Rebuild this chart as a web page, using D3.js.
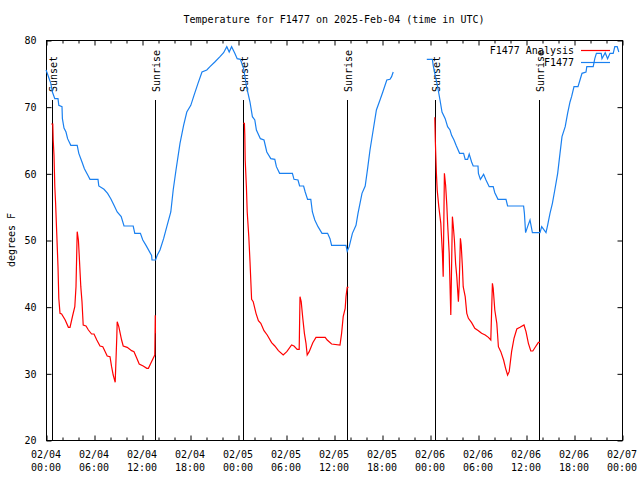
<!DOCTYPE html>
<html>
<head>
<meta charset="utf-8">
<script src="https://cdn.jsdelivr.net/npm/d3@7"></script>
<style>
  html, body { margin: 0; padding: 0; background: #fff; }
  svg { display: block; }
  text { font-family: "DejaVu Sans Mono", "Liberation Mono", monospace; font-size: 10px; fill: #000; }
</style>
</head>
<body>
<svg id="chart" width="640" height="480"></svg>
<script>
// ---- Data (hours since 2025-02-04 00:00 UTC, degrees F) ----
const titleText = "Temperature for F1477 on 2025-Feb-04 (time in UTC)";
const yLabel = "degrees F";
const seriesNames = ["F1477 Analysis", "F1477"];
const yTicks = [20, 30, 40, 50, 60, 70, 80];
const xMajorHours = [0, 6, 12, 18, 24, 30, 36, 42, 48, 54, 60, 66, 72];
const sunsetHours = [0.78, 24.66, 48.66];
const sunriseHours = [13.66, 37.66, 61.66];

// observed F1477 (blue), two segments
const obsSeg1 = [[0,75.5],[0.1,75.2],[0.6,73.5],[0.8,72.2],[1.1,71.2],[1.5,71.2],[1.6,70.2],[2.0,70],[2.05,68.2],[2.25,66.8],[2.5,66.2],[2.7,65.2],[3.1,64.2],[3.9,64.2],[4.1,63],[4.5,61.7],[4.8,60.7],[5.2,59.8],[5.5,59.1],[6.5,59.1],[6.6,58.1],[7.25,57.6],[7.7,57],[8.1,56.2],[8.5,55.2],[8.9,54.2],[9.4,53.5],[9.75,52.1],[10.9,52.1],[11.1,51],[11.8,51],[12.1,50],[12.5,49.2],[13.2,47.7],[13.25,47],[13.7,47],[13.9,47.7],[14.25,48.5],[14.7,50.2],[15.1,52],[15.6,54.2],[15.9,57.5],[16.25,60.5],[16.75,64.5],[17.2,67.2],[17.6,69.2],[18.1,70.2],[18.5,71.7],[19.0,73.5],[19.5,75.2],[20.1,75.5],[20.5,76],[21.1,76.7],[21.75,77.5],[22.2,78.1],[22.6,79],[22.9,78.2],[23.2,79],[23.6,78],[23.9,77.2],[24.3,77.1],[24.7,75.7],[25.1,72.8],[25.5,70.7],[25.8,68.5],[26.1,68],[26.3,66.5],[26.8,65.2],[27.25,65],[27.6,63.2],[28.1,62.2],[28.6,62.1],[28.8,61],[29.2,60],[30.8,60],[31.0,59.1],[31.5,59],[31.7,58.1],[32.2,58.1],[32.4,57.2],[32.7,56.1],[33.1,56.1],[33.3,54.2],[33.6,53],[34.0,52],[34.5,51],[35.2,51],[35.5,50.2],[35.7,49.2],[37.5,49.2],[37.65,48.3],[37.9,49],[38.3,51],[38.75,52.2],[39.0,54],[39.5,57],[39.9,58.1],[40.2,60.7],[40.5,63.5],[40.9,66.5],[41.3,69.5],[41.75,71],[42.1,72.2],[42.6,74],[43.0,74.1],[43.2,74.5],[43.4,75.2]];
const obsSeg2 = [[47.6,77.1],[48.3,77.1],[48.4,76.2],[48.6,75],[48.95,73],[49.25,71],[49.5,69.2],[49.9,68.2],[50.2,67],[50.5,66.5],[50.7,65.7],[51.0,65],[51.3,64.1],[51.7,63],[52.2,63],[52.4,62.1],[52.7,62.1],[52.9,62.9],[53.2,61.7],[53.4,61.1],[54.0,61.1],[54.05,60],[54.3,59.1],[54.7,59.85],[55.0,59],[55.4,58],[55.9,58],[56.1,57.1],[56.5,56.1],[57.5,56.1],[57.7,55.1],[59.7,55.1],[59.8,54],[59.95,51.1],[60.2,52],[60.5,53],[60.8,51.1],[61.75,51.1],[61.96,52],[62.5,51.1],[62.7,52.2],[63.0,54],[63.3,55.5],[63.6,57.5],[63.96,60],[64.25,63],[64.5,65.5],[64.9,67],[65.2,69],[65.5,70.7],[65.7,71.5],[66.0,73],[66.5,73],[66.75,74],[67.0,75],[67.5,75.2],[67.6,76],[68.4,76],[68.6,77.2],[68.8,78],[69.4,78],[69.5,77.2],[69.9,78.1],[70.2,77.2],[70.5,78],[70.9,78],[71.1,79],[71.4,79],[71.6,78.2]];

// F1477 Analysis (red), one segment per night
const anaNight1 = [[0.66,67.4],[0.85,67.4],[0.9,65],[1.0,62.7],[1.1,58],[1.2,55.5],[1.35,50.75],[1.5,46],[1.6,41.25],[1.75,39],[1.95,38.9],[2.4,38],[2.8,36.9],[3.0,36.9],[3.35,38.75],[3.6,40],[3.75,43],[3.9,51.25],[4.05,50],[4.15,47.75],[4.35,43],[4.5,40.75],[4.65,37.25],[5.0,37.1],[5.3,36.5],[5.7,35.9],[6.0,35.9],[6.35,35],[6.75,34.1],[7.1,34],[7.4,33.25],[7.65,32.6],[8.0,32.5],[8.2,31],[8.4,29.75],[8.65,28.65],[8.85,35.5],[8.9,37.75],[9.1,37],[9.45,35],[9.65,34.1],[10.15,33.9],[10.7,33.4],[11.0,33.25],[11.35,32.25],[11.65,31.4],[12.15,31.1],[12.6,30.75],[12.8,30.75],[13.1,31.5],[13.4,32.25],[13.6,32.75],[13.66,38.7],[13.68,36]];
const anaNight2 = [[24.66,67.5],[24.8,67.5],[24.85,65.75],[24.9,62],[25.05,58],[25.15,54.25],[25.35,50.5],[25.5,46.75],[25.7,41.1],[25.9,40.75],[26.25,39],[26.55,37.9],[26.85,37.5],[27.25,36.4],[27.65,35.75],[28.2,34.6],[28.6,34.1],[29.05,33.4],[29.65,32.75],[30.1,33.25],[30.7,34.25],[31.0,34.1],[31.4,33.6],[31.65,33.6],[31.75,41.5],[31.9,40.75],[32.1,38.25],[32.3,36],[32.5,34.5],[32.65,32.75],[32.9,33.25],[33.35,34.6],[33.75,35.4],[34.9,35.4],[35.15,35],[35.7,34.4],[36.75,34.25],[36.95,36],[37.15,38.5],[37.4,39.75],[37.5,41.5],[37.65,42.9],[37.8,42.9]];
const anaNight3 = [[48.6,68.4],[48.67,64.75],[48.8,60],[48.9,57.5],[49.1,55],[49.35,52.5],[49.55,48],[49.65,44.5],[49.8,60],[49.95,58.25],[50.1,55.25],[50.2,52.5],[50.4,48],[50.5,43.25],[50.6,38.75],[50.8,53.5],[50.9,52.25],[51.05,50],[51.2,46.5],[51.35,44.5],[51.55,40.75],[51.65,43.25],[51.8,50.25],[51.9,49.25],[52.05,46],[52.15,43],[52.4,41.5],[52.6,39],[52.8,38.25],[53.2,37.6],[53.6,36.75],[54.05,36.4],[54.45,36],[54.9,35.75],[55.3,35.4],[55.6,35],[55.7,39.25],[55.8,43.5],[55.9,42.75],[56.1,39.5],[56.35,37.5],[56.55,34],[56.85,33.25],[57.2,32],[57.45,30.75],[57.7,29.75],[57.9,30.25],[58.2,33.25],[58.5,35.25],[58.85,36.65],[59.25,36.9],[59.75,37.25],[60.0,36.25],[60.3,34.5],[60.6,33.35],[60.85,33.35],[61.25,34.1],[61.55,34.65],[61.75,34.65]];

const obsColor = "#1a80f0";
const anaColor = "#ff0000";

// ---- Layout ----
const svg = d3.select("#chart");
const L = 46, R = 622, T = 40, B = 440;
const t0 = Date.UTC(2025, 1, 4);
const hr = h => new Date(t0 + h * 3600e3);

const x = d3.scaleUtc().domain([hr(0), hr(72)]).range([L, R]);
const y = d3.scaleLinear().domain([20, 80]).range([B, T]);

// frame
svg.append("rect").attr("x", L + 0.5).attr("y", T + 0.5)
  .attr("width", R - L).attr("height", B - T)
  .attr("fill", "none").attr("stroke", "#000").attr("stroke-width", 1);

// x ticks (major every 6h, minor every 2h), inward, bottom and top
const minorHours = d3.range(0, 73, 2).filter(h => h % 6 !== 0);
const fmtDate = d3.utcFormat("%m/%d"), fmtTime = d3.utcFormat("%H:%M");

const xb = svg.append("g").attr("transform", `translate(0.5,${B + 0.5})`)
  .call(d3.axisBottom(x).tickValues(xMajorHours.map(hr)).tickSizeInner(-5).tickSizeOuter(0).tickFormat(""));
const xt = svg.append("g").attr("transform", `translate(0.5,${T + 0.5})`)
  .call(d3.axisTop(x).tickValues(xMajorHours.map(hr)).tickSizeInner(-5).tickSizeOuter(0).tickFormat(""));
svg.append("g").attr("transform", `translate(0.5,${B + 0.5})`)
  .call(d3.axisBottom(x).tickValues(minorHours.map(hr)).tickSizeInner(-3).tickSizeOuter(0).tickFormat(""));
svg.append("g").attr("transform", `translate(0.5,${T + 0.5})`)
  .call(d3.axisTop(x).tickValues(minorHours.map(hr)).tickSizeInner(-3).tickSizeOuter(0).tickFormat(""));

// x labels, two lines
const xl = svg.append("g");
xMajorHours.forEach(h => {
  const t = xl.append("text").attr("x", x(hr(h))).attr("y", 458).attr("text-anchor", "middle");
  t.append("tspan").attr("x", x(hr(h))).text(fmtDate(hr(h)));
  t.append("tspan").attr("x", x(hr(h))).attr("dy", 13).text(fmtTime(hr(h)));
});

// y ticks left and right
svg.append("g").attr("transform", `translate(${L + 0.5},0.5)`)
  .call(d3.axisLeft(y).tickValues(yTicks).tickSizeInner(-5).tickSizeOuter(0).tickPadding(10).tickFormat(d3.format("d")));
svg.append("g").attr("transform", `translate(${R + 0.5},0.5)`)
  .call(d3.axisRight(y).tickValues(yTicks).tickSizeInner(-5).tickSizeOuter(0).tickFormat(""));

svg.selectAll(".domain").remove();
svg.selectAll(".tick line").attr("stroke", "#000");
svg.selectAll(".tick text").attr("font-family", "DejaVu Sans Mono").attr("font-size", 10).attr("fill", "#000");

// title & y label
svg.append("text").attr("x", 334).attr("y", 23).attr("text-anchor", "middle").text(titleText);
svg.append("text").attr("transform", "translate(15,240) rotate(-90)").attr("text-anchor", "middle").text(yLabel);

// sunset / sunrise markers
const markers = sunsetHours.map(h => ({ h, label: "Sunset" }))
  .concat(sunriseHours.map(h => ({ h, label: "Sunrise" })));
markers.forEach(m => {
  const px = Math.round(x(hr(m.h))) + 0.5;
  svg.append("line").attr("x1", px).attr("x2", px).attr("y1", y(71)).attr("y2", y(20))
    .attr("stroke", "#000").attr("stroke-width", 1).attr("shape-rendering", "crispEdges");
  svg.append("text").attr("transform", `translate(${px + 4},${y(71) - 8}) rotate(-90)`)
    .attr("text-anchor", "start").text(m.label);
});

// lines
const line = d3.line().x(d => x(hr(d[0]))).y(d => y(d[1]));
[anaNight1, anaNight2, anaNight3].forEach(seg => {
  svg.append("path").datum(seg).attr("d", line).attr("fill", "none")
    .attr("stroke", anaColor).attr("stroke-width", 1.2);
});
[obsSeg1, obsSeg2].forEach(seg => {
  svg.append("path").datum(seg).attr("d", line).attr("fill", "none")
    .attr("stroke", obsColor).attr("stroke-width", 1.2);
});

// legend
const leg = [{ name: seriesNames[0], color: anaColor, yy: 50 }, { name: seriesNames[1], color: obsColor, yy: 62 }];
leg.forEach(d => {
  svg.append("text").attr("x", 574).attr("y", d.yy + 3.5).attr("text-anchor", "end").text(d.name);
  svg.append("line").attr("x1", 581).attr("x2", 610).attr("y1", d.yy + 0.5).attr("y2", d.yy + 0.5)
    .attr("stroke", d.color).attr("stroke-width", 1.2);
});
</script>
</body>
</html>
